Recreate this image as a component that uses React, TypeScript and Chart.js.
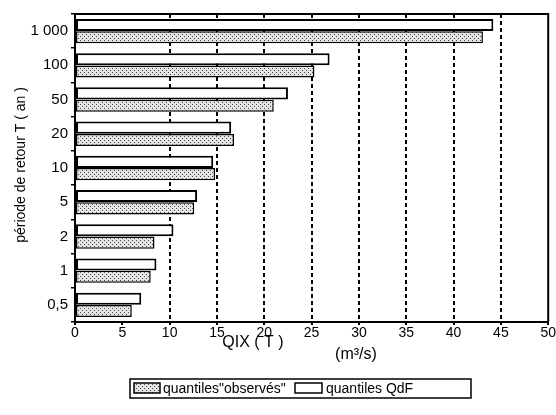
import React, { useEffect, useRef } from "react";
import { Chart, registerables } from "chart.js";

Chart.register(...registerables);

const categories = ["1 000", "100", "50", "20", "10", "5", "2", "1", "0,5"];
const qdfValues = [44.2, 26.9, 22.5, 16.5, 14.6, 12.9, 10.4, 8.6, 7.0];
const observedValues = [43.1, 25.3, 21.0, 16.8, 14.8, 12.6, 8.4, 8.0, 6.0];
const xTicks = [0, 5, 10, 15, 20, 25, 30, 35, 40, 45, 50];
const dashedLines = [10, 15, 20, 25, 30, 35, 40, 45];

const FONT = "'Liberation Sans', Arial, sans-serif";

export default function App() {
  const ref = useRef<HTMLCanvasElement | null>(null);

  useEffect(() => {
    const canvas = ref.current;
    if (!canvas) return;
    const ctx = canvas.getContext("2d")!;
    const pc = document.createElement("canvas");
    pc.width = 4;
    pc.height = 4;
    const g = pc.getContext("2d")!;
    g.fillStyle = "#e4e4e4";
    g.fillRect(0, 0, 4, 4);
    g.fillStyle = "#444";
    g.fillRect(0, 0, 1, 1);
    g.fillRect(2, 2, 1, 1);
    const pattern = ctx.createPattern(pc, "repeat")!;

    const textPlugin = {
      id: "texts",
      afterDraw(chart: any) {
        const c = chart.ctx;
        const a = chart.chartArea;
        c.save();
        c.strokeStyle = "#000";
        c.lineWidth = 2;
        c.beginPath();
        c.moveTo(a.left, a.top);
        c.lineTo(a.right, a.top);
        c.lineTo(a.right, a.bottom);
        c.stroke();
        c.fillStyle = "#000";
        c.font = `16px ${FONT}`;
        c.textAlign = "center";
        c.textBaseline = "middle";
        c.fillText("QIX ( T )", 253, 343);
        c.fillText("(m³/s)", 356, 355);
        c.save();
        c.translate(21, 165);
        c.rotate(-Math.PI / 2);
        c.font = `14px ${FONT}`;
        c.fillText("période de retour T ( an )", 0, 0);
        c.restore();
        // legend
        c.lineWidth = 1.5;
        c.strokeRect(130, 379, 341, 19);
        c.fillStyle = pattern;
        c.fillRect(134, 383, 26, 10);
        c.strokeRect(134, 383, 26, 10);
        c.fillStyle = "#fff";
        c.fillRect(295, 383, 27, 10);
        c.strokeRect(295, 383, 27, 10);
        c.fillStyle = "#000";
        c.textAlign = "left";
        c.font = `14px ${FONT}`;
        c.fillText('quantiles"observés"', 163, 389);
        c.fillText("quantiles QdF", 326, 389);
        c.restore();
      },
    };

    const chart = new Chart(ctx, {
      type: "bar",
      data: {
        labels: categories,
        datasets: [
          {
            label: "quantiles QdF",
            data: qdfValues,
            backgroundColor: "#ffffff",
            borderColor: "#000",
            borderWidth: 2,
            borderSkipped: false,
            categoryPercentage: 0.72,
            barPercentage: 0.98,
          },
          {
            label: 'quantiles"observés"',
            data: observedValues,
            backgroundColor: pattern as any,
            borderColor: "#000",
            borderWidth: 1.5,
            borderSkipped: false,
            categoryPercentage: 0.72,
            barPercentage: 0.98,
          },
        ],
      },
      options: {
        indexAxis: "y",
        animation: false,
        responsive: false,
        layout: { padding: { left: 0, top: 14, right: 6, bottom: 73 } },
        plugins: { legend: { display: false }, tooltip: { enabled: false } },
        scales: {
          x: {
            min: 0,
            max: 50,
            afterBuildTicks: (s: any) => {
              s.ticks = xTicks.map((v) => ({ value: v }));
            },
            afterFit: (s: any) => {
              s.height = 20;
            },
            ticks: {
              color: "#000",
              font: { family: FONT, size: 14 },
              padding: 0,
              maxRotation: 0,
            },
            grid: {
              color: (c: any) =>
                dashedLines.includes(c.tick?.value) ? "#000" : "rgba(0,0,0,0)",
              lineWidth: 2,
              tickColor: "#000",
              tickLength: 3,
              tickBorderDash: [],
            },
            border: { display: true, color: "#000", width: 2, dash: [4, 3] },
          },
          y: {
            afterFit: (s: any) => {
              s.width = 75;
            },
            ticks: {
              color: "#000",
              font: { family: FONT, size: 15 },
              padding: 3,
            },
            grid: {
              offset: true,
              drawOnChartArea: false,
              color: "#000",
              tickLength: 4,
              lineWidth: 1.5,
            },
            border: { display: true, color: "#000", width: 2 },
          },
        },
      },
      plugins: [textPlugin],
    });
    return () => chart.destroy();
  }, []);

  return (
    <div style={{ position: "fixed", left: 0, top: 0, width: 556, height: 415, background: "#fff" }}>
      <canvas ref={ref} width={556} height={415} style={{ display: "block" }} />
    </div>
  );
}
